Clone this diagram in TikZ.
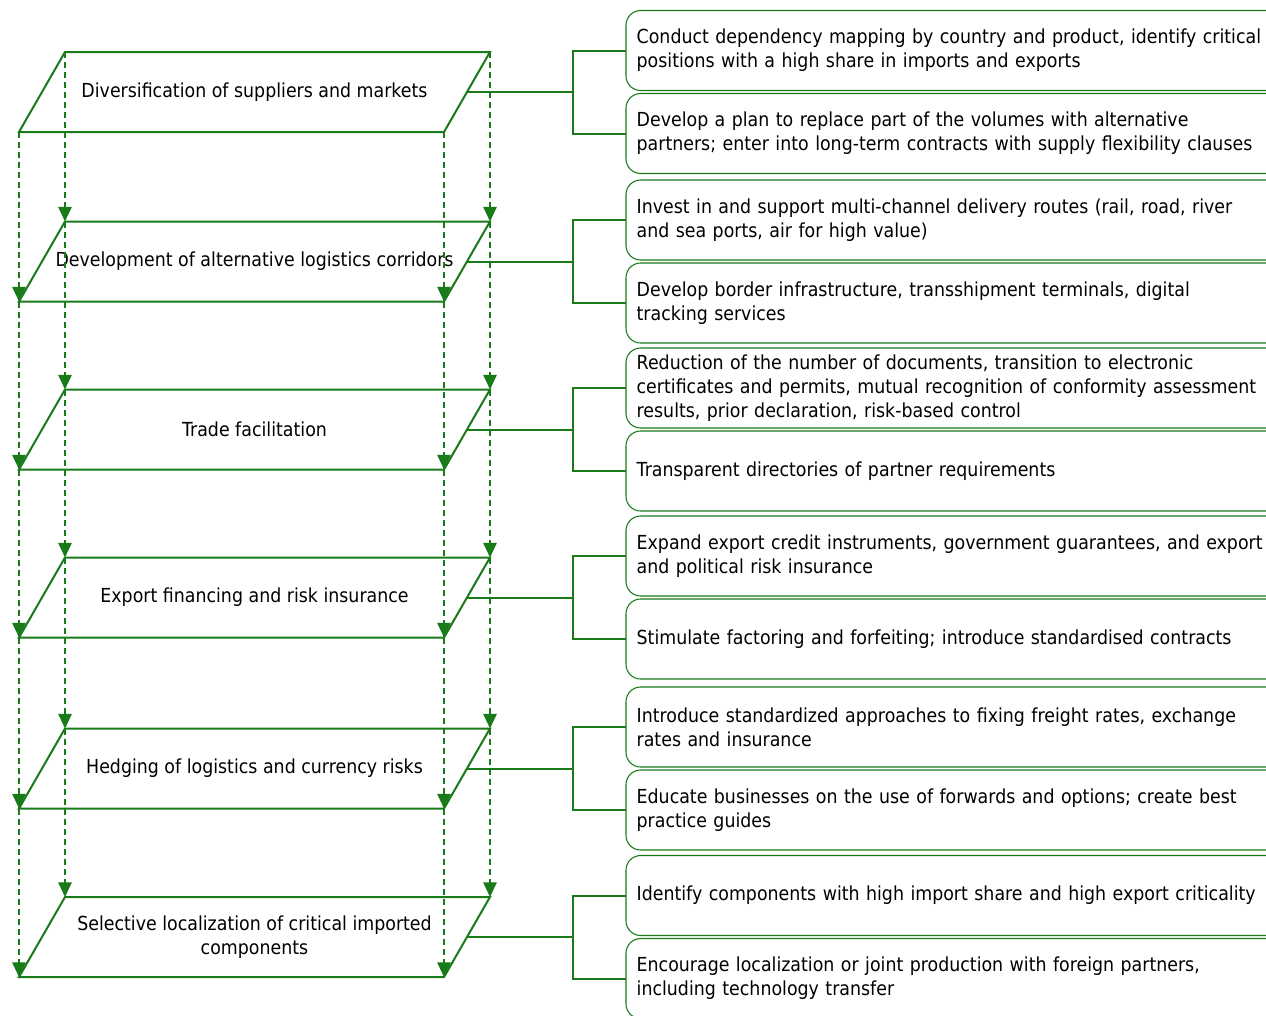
\documentclass[tikz,border=0pt]{standalone}
\usepackage{fontspec}
\setmainfont{DejaVu Sans}[FakeStretch=0.9]
\usetikzlibrary{arrows.meta,calc,positioning}
\definecolor{leaf}{RGB}{24,122,24}
\tikzset{%
	level/.style  = {align=center, font=\fontsize{14.5}{18}\selectfont},
	plate/.style  = {draw=leaf, line width=1.5pt, line join=miter},
	action/.style = {draw=leaf, line width=0.8pt, rectangle, rounded corners=11pt, minimum height=60pt, text width=495pt, inner xsep=8pt, outer sep=0pt, align=left, anchor=west, font=\fontsize{14.5}{18}\selectfont},
	link/.style   = {draw=leaf, line width=1.5pt},
	flow/.style   = {draw=leaf, line width=1.4pt, dash pattern=on 4.5pt off 3pt, -{Triangle[length=11pt,width=10pt]}},
}
\begin{document}
\begin{tikzpicture}[x=0.75pt,y=-0.75pt]
		\useasboundingbox (0,0) rectangle (1266,1015);
		% levels
		\node[level] (p1) at (254.5,92) {Diversification of suppliers and markets};
		\node[level] (p2) at (254.5,261.5) {Development of alternative logistics corridors};
		\node[level] (p3) at (254.5,429.5) {Trade facilitation};
		\node[level] (p4) at (254.5,597.5) {Export financing and risk insurance};
		\node[level] (p5) at (254.5,768.5) {Hedging of logistics and currency risks};
		\node[level] (p6) at (254.5,937) {Selective localization of critical imported\\components};
		% parallelograms round the levels
		\foreach \i in {1,...,6} {
			\draw[plate] ($(p\i)+(-235.5,40)$) coordinate (bl\i) -- ++(46,-80) coordinate (tl\i)
				-- ++(425,0) coordinate (tr\i) -- ++(-46,80) coordinate (br\i) -- cycle;
			\coordinate (e\i) at ($(tr\i)!0.5!(br\i)$);
		}
		% measures
		\node[action] (a1) at (626,50.5) {Conduct dependency mapping by country and product, identify critical\\positions with a high share in imports and exports};
		\node[action] (b1) at (626,133.5) {Develop a plan to replace part of the volumes with alternative\\partners; enter into long-term contracts with supply flexibility clauses};
		\node[action] (a2) at (626,220) {Invest in and support multi-channel delivery routes (rail, road, river\\and sea ports, air for high value)};
		\node[action] (b2) at (626,303) {Develop border infrastructure, transshipment terminals, digital\\tracking services};
		\node[action] (a3) at (626,388) {Reduction of the number of documents, transition to electronic\\certificates and permits, mutual recognition of conformity assessment\\results, prior declaration, risk-based control};
		\node[action] (b3) at (626,471) {Transparent directories of partner requirements};
		\node[action] (a4) at (626,556) {Expand export credit instruments, government guarantees, and export\\and political risk insurance};
		\node[action] (b4) at (626,639) {Stimulate factoring and forfeiting; introduce standardised contracts};
		\node[action] (a5) at (626,727) {Introduce standardized approaches to fixing freight rates, exchange\\rates and insurance};
		\node[action] (b5) at (626,810) {Educate businesses on the use of forwards and options; create best\\practice guides};
		\node[action] (a6) at (626,895.5) {Identify components with high import share and high export criticality};
		\node[action] (b6) at (626,978.5) {Encourage localization or joint production with foreign partners,\\including technology transfer};
		% brackets
		\foreach \i in {1,...,6}
			\draw[link] (e\i) -- ++(106,0) coordinate (j\i) |- (a\i.west) (j\i) |- (b\i.west);
		% dashed arrows down the stack
		\foreach \i [evaluate=\i as \k using int(\i+1)] in {1,...,5} {
			\draw[flow] (tl\i) -- (tl\k);
			\draw[flow] (tr\i) -- (tr\k);
			\draw[flow] (bl\i) -- (bl\k);
			\draw[flow] (br\i) -- (br\k);
		}
		\end{tikzpicture}
\end{document}
